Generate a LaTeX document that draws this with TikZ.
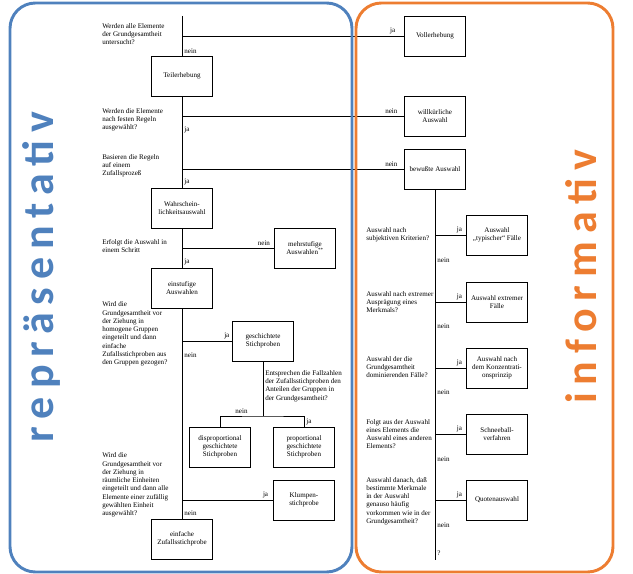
\documentclass[tikz,border=0pt]{standalone}
\usepackage{fontspec}
\setmainfont{Liberation Serif}
\newfontfamily\grossfont[LetterSpace=18]{Carlito}
\usepackage{tikz}
\definecolor{repblau}{RGB}{79,129,189}
\definecolor{infoorange}{RGB}{237,125,49}

\begin{document}
\begin{tikzpicture}[x=0.75pt,y=-0.75pt,
	kasten/.style={draw,line width=0.6pt,minimum width=45.5pt,minimum height=30pt,inner sep=1pt,align=center,font=\fontsize{5.3}{6.2}\selectfont},
	frage/.style={anchor=west,inner sep=0pt,align=left,font=\fontsize{5.3}{6.2}\selectfont},
	marke/.style={inner sep=1.5pt,font=\fontsize{5.3}{6.2}\selectfont},
	linie/.style={draw,line width=0.6pt},
	gross/.style={rotate=90,anchor=base,font=\grossfont\bfseries\fontsize{33}{33}\selectfont}]
	\useasboundingbox (0,0) rectangle (633,574);
			% Kaesten links
			\begin{scope}[every node/.style={kasten}]
	    		\node (teil) at (182,76) {Teilerhebung};
	    		\node (wahr) at (182,208) {Wahrschein-\\lichkeitsauswahl};
	    		\node (ein) at (182,288) {einstufige\\Auswahlen};
	    		\node (mehr) at (305,248) {mehrstufige\\Auswahlen\textsuperscript{**}};
	    		\node (gesch) at (263,341) {geschichtete\\Stichproben};
	    		\node (disp) at (220,447) {disproportional\\geschichtete\\Stichproben};
	    		\node (prop) at (304,447) {proportional\\geschichtete\\Stichproben};
	    		\node (klump) at (304,500) {Klumpen-\\stichprobe};
	    		\node (einf) at (182,539) {einfache\\Zufallsstichprobe};
			\end{scope}
			% Kaesten rechts
			\begin{scope}[every node/.style={kasten}]
	    		\node (voll) at (435,36) {Vollerhebung};
	    		\node (will) at (435,116) {willkürliche\\Auswahl};
	    		\node (bew) at (435,169) {bewußte Auswahl};
	    		\node (typ) at (497,235) {Auswahl\\„typischer“ Fälle};
	    		\node (extr) at (497,302) {Auswahl extremer\\Fälle};
	    		\node (konz) at (497,368) {Auswahl nach\\dem Konzentrati-\\onsprinzip};
	    		\node (schnee) at (497,434) {Schneeball-\\verfahren};
	    		\node (quote) at (497,500) {Quotenauswahl};
			\end{scope}
			% Fragen
			\begin{scope}[every node/.style={frage}]
	    		\node (f1) at (102,34) {Werden alle Elemente\\der Grundgesamtheit\\untersucht?};
	    		\node (f2) at (102,120) {Werden die Elemente\\nach festen Regeln\\ausgewählt?};
	    		\node (f3) at (102,166) {Basieren die Regeln\\auf einem\\Zufallsprozeß};
	    		\node (f4) at (102,246) {Erfolgt die Auswahl in\\einem Schritt};
	    		\node (f5) at (102,334) {Wird die\\Grundgesamtheit vor\\der Ziehung in\\homogene Gruppen\\eingeteilt und dann\\einfache\\Zufallsstichproben aus\\den Gruppen gezogen?};
	    		\node (f6) at (265,386) {Entsprechen die Fallzahlen\\der Zufallsstichproben den\\Anteilen der Gruppen in\\der Grundgesamtheit?};
	    		\node (f7) at (102,485) {Wird die\\Grundgesamtheit vor\\der Ziehung in\\räumliche Einheiten\\eingeteilt und dann alle\\Elemente einer zufällig\\gewählten Einheit\\ausgewählt?};
	    		\node (g1) at (366,235) {Auswahl nach\\subjektiven Kriterien?};
	    		\node (g2) at (366,302) {Auswahl nach extremer\\Ausprägung eines\\Merkmals?};
	    		\node (g3) at (366,367) {Auswahl der die\\Grundgesamtheit\\dominierenden Fälle?};
	    		\node (g4) at (366,434) {Folgt aus der Auswahl\\eines Elements die\\Auswahl eines anderen\\Elements?};
	    		\node (g5) at (366,501) {Auswahl danach, daß\\bestimmte Merkmale\\in der Auswahl\\genauso häufig\\vorkommen wie in der\\Grundgesamtheit?};
			\end{scope}
			% Verzweigungen
			\coordinate (start) at (182,16);
			\coordinate (j1) at (182,36);
			\coordinate (j2) at (182,116);
			\coordinate (j3) at (182,169);
			\coordinate (j4) at (182,248);
			\coordinate (j5) at (182,341);
			\coordinate (j7) at (182,500);
			\coordinate (sp) at (263,416);
			\coordinate (k1) at (435,235);
			\coordinate (k2) at (435,302);
			\coordinate (k3) at (435,368);
			\coordinate (k4) at (435,434);
			\coordinate (k5) at (435,500);
			\coordinate (ende) at (435,560);

			\begin{scope}[every node/.style={marke},every edge/.style={linie}]
				\path (start) edge (j1);
				\path (j1) edge node[pos=0.75,right] {nein} (teil);
				\path (teil) edge (j2);
				\path (j2) edge node[pos=0.27,right] {ja} (j3);
				\path (j3) edge node[pos=0.72,right] {ja} (wahr);
				\path (wahr) edge (j4);
				\path (j4) edge node[pos=0.7,right] {ja} (ein);
				\path (ein) edge (j5);
				\path (j5) edge node[pos=0.09,right] {nein} (j7);
				\path (j7) edge node[pos=0.72,right] {nein} (einf);

				\path (j1) edge node[pos=0.97,above left] {ja} (voll);
				\path (j2) edge node[pos=0.98,above left] {nein} (will);
				\path (j3) edge node[pos=0.98,above left] {nein} (bew);
				\path (j4) edge node[pos=0.98,above left] {nein} (mehr);
				\path (j5) edge node[pos=0.99,above left] {ja} (gesch);
				\path (j7) edge node[pos=0.97,above left] {ja} (klump);

				\path (gesch) edge (sp);
				\draw[linie] (disp.north) |- node[pos=0.75,above] {nein} (sp) -| node[pos=0.77,right] {ja} (prop.north);

				\path (bew) edge (k1);
				\path (k1) edge node[pos=0.38,right] {nein} (k2);
				\path (k2) edge node[pos=0.37,right] {nein} (k3);
				\path (k3) edge node[pos=0.36,right] {nein} (k4);
				\path (k4) edge node[pos=0.38,right] {nein} (k5);
				\path (k5) edge node[pos=0.42,right] {nein} node[pos=0.88,right] {?} (ende);

				\path (k1) edge node[pos=0.94,above left] {ja} (typ);
				\path (k2) edge node[pos=0.94,above left] {ja} (extr);
				\path (k3) edge node[pos=0.94,above left] {ja} (konz);
				\path (k4) edge node[pos=0.94,above left] {ja} (schnee);
				\path (k5) edge node[pos=0.94,above left] {ja} (quote);
			\end{scope}

			% Rahmen
			\draw[repblau,line width=2.2pt,rounded corners=19pt] (10,3) rectangle (352,572);
			\draw[infoorange,line width=2.2pt,rounded corners=19pt] (356,3) rectangle (613,572);
			\node[gross,text=repblau] (rep) at (54,277) {repräsentativ};
			\node[gross,text=infoorange] (info) at (596,277) {informativ};
		\end{tikzpicture}
\end{document}
